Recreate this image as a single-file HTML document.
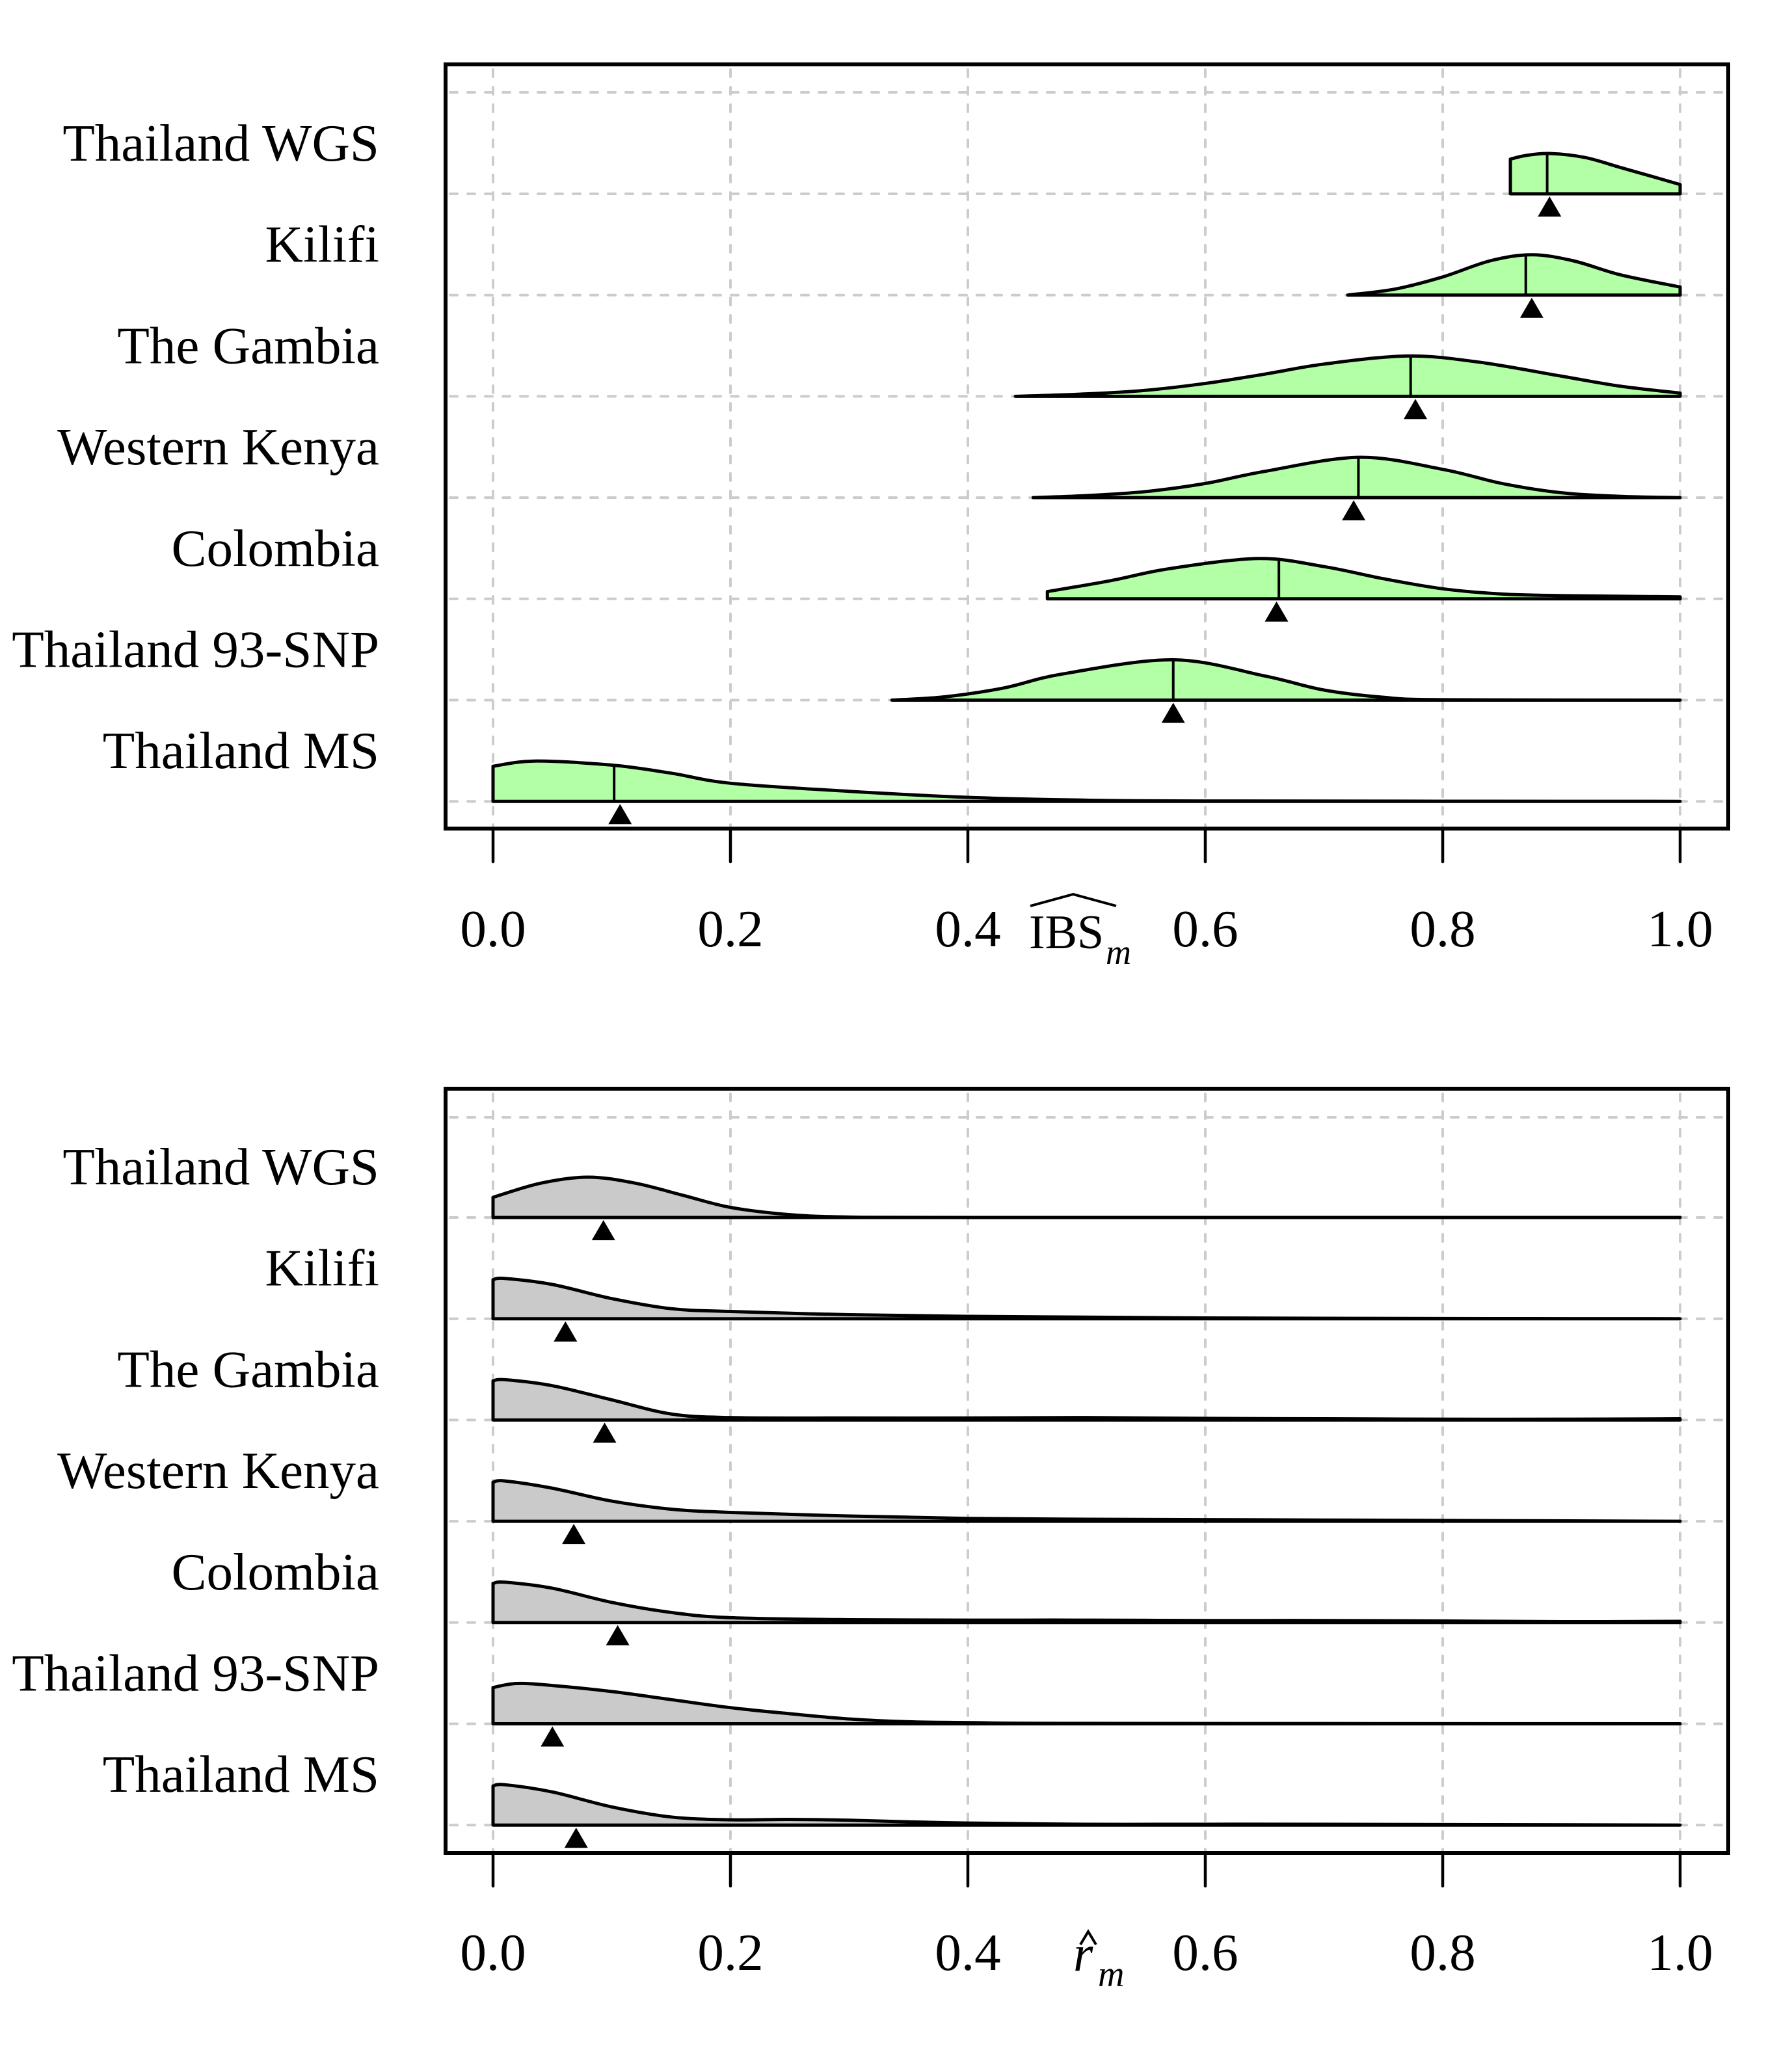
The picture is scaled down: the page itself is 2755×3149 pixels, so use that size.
<!DOCTYPE html>
<html><head><meta charset="utf-8"><style>
html,body{margin:0;padding:0;background:#fff;}
svg{display:block;}
text{font-family:"Liberation Serif",serif;fill:#000;}
</style></head><body>
<svg id="chart" width="2755" height="3149" viewBox="0 0 2755 3149" xmlns="http://www.w3.org/2000/svg">
<text x="1582" y="1458" font-size="74">IBS</text>
<text x="1700" y="1482" font-size="54" font-style="italic">m</text>
<path d="M1584 1393 L1650 1375 L1716 1393" fill="none" stroke="#000" stroke-width="4"/>
<text x="1650" y="3030" font-size="78" font-style="italic">r</text>
<text x="1688" y="3054" font-size="56" font-style="italic">m</text>
<path d="M1661 2990 L1673 2970 L1685 2990" fill="none" stroke="#000" stroke-width="4"/>
</svg>
<script>
const categories = ["Thailand WGS","Kilifi","The Gambia","Western Kenya","Colombia","Thailand 93-SNP","Thailand MS"];
const tickValues = [0,0.2,0.4,0.6,0.8,1.0];
const tickLabels = ["0.0","0.2","0.4","0.6","0.8","1.0"];
const ibsX = [
 [0.857,0.87,0.89,0.92,0.95,0.98,1.0],
 [0.72,0.76,0.80,0.84,0.875,0.91,0.95,1.0],
 [0.44,0.50,0.55,0.60,0.65,0.70,0.77,0.83,0.90,0.95,1.0],
 [0.455,0.50,0.55,0.60,0.65,0.73,0.80,0.85,0.90,0.95,1.0],
 [0.467,0.52,0.57,0.645,0.70,0.75,0.80,0.85,0.90,1.0],
 [0.336,0.38,0.43,0.48,0.573,0.65,0.70,0.75,0.80,1.0],
 [0,0.035,0.10,0.15,0.20,0.30,0.40,0.50,0.60,1.0]
];
const ibsH = [
 [0.86,0.95,1.0,0.9,0.65,0.4,0.23],
 [0.0,0.15,0.45,0.85,1.0,0.85,0.5,0.2],
 [0.0,0.06,0.15,0.32,0.55,0.8,1.0,0.85,0.5,0.25,0.08],
 [0.0,0.05,0.15,0.35,0.65,1.0,0.7,0.35,0.12,0.03,0.0],
 [0.18,0.45,0.75,1.0,0.8,0.5,0.25,0.12,0.08,0.05],
 [0.0,0.08,0.3,0.65,1.0,0.6,0.25,0.07,0.01,0.0],
 [0.87,1.0,0.9,0.7,0.45,0.25,0.1,0.03,0.01,0.0]
];
const ibsMedian = [0.888,0.87,0.773,0.729,0.662,0.573,0.102];
const ibsMean = [0.89,0.875,0.777,0.725,0.66,0.573,0.107];
const rX = [
 [0,0.04,0.08,0.12,0.16,0.2,0.25,0.3,0.4,1.0],
 [0,0.01,0.05,0.1,0.15,0.2,0.3,0.4,0.5,0.6,0.8,1.0],
 [0,0.01,0.05,0.1,0.15,0.2,0.3,0.4,0.5,0.6,0.7,0.8,0.9,1.0],
 [0,0.01,0.05,0.1,0.15,0.2,0.3,0.4,0.5,0.6,0.7,0.8,1.0],
 [0,0.01,0.05,0.1,0.15,0.2,0.3,0.4,0.5,0.6,0.7,0.8,0.9,1.0],
 [0,0.02,0.05,0.1,0.15,0.2,0.25,0.3,0.35,0.4,0.5,1.0],
 [0,0.01,0.05,0.1,0.15,0.2,0.25,0.3,0.35,0.4,0.5,0.6,0.7,1.0]
];
const rH = [
 [0.5,0.85,1.0,0.85,0.55,0.25,0.07,0.01,0.0,0.0],
 [0.97,1.0,0.85,0.5,0.25,0.18,0.1,0.06,0.04,0.02,0.005,0.0],
 [0.97,1.0,0.85,0.5,0.15,0.06,0.05,0.05,0.06,0.04,0.03,0.02,0.02,0.03],
 [0.97,1.0,0.82,0.5,0.3,0.22,0.13,0.07,0.05,0.04,0.03,0.02,0.0],
 [0.97,1.0,0.85,0.5,0.25,0.12,0.07,0.06,0.06,0.05,0.05,0.04,0.02,0.03],
 [0.9,1.0,0.95,0.8,0.6,0.4,0.25,0.12,0.05,0.03,0.01,0.0],
 [0.97,1.0,0.82,0.45,0.2,0.13,0.14,0.12,0.08,0.05,0.02,0.02,0.02,0.0]
];
const rMean = [0.093,0.061,0.094,0.068,0.105,0.05,0.07];

const NS = "http://www.w3.org/2000/svg";
const svg = document.getElementById("chart");
const xs = v => 758 + v * 1825;
function mk(tag, attrs, parent) {
  const e = document.createElementNS(NS, tag);
  for (const k in attrs) e.setAttribute(k, attrs[k]);
  (parent || svg).appendChild(e);
  return e;
}
function smoothPath(pts) {
  let d = "M" + pts[0][0] + " " + pts[0][1];
  for (let i = 0; i < pts.length - 1; i++) {
    const p0 = pts[Math.max(0, i - 1)], p1 = pts[i], p2 = pts[i + 1], p3 = pts[Math.min(pts.length - 1, i + 2)];
    const c1x = p1[0] + (p2[0] - p0[0]) / 6, c1y = p1[1] + (p2[1] - p0[1]) / 6;
    const c2x = p2[0] - (p3[0] - p1[0]) / 6, c2y = p2[1] - (p3[1] - p1[1]) / 6;
    d += " C" + c1x + " " + c1y + " " + c2x + " " + c2y + " " + p2[0] + " " + p2[1];
  }
  return d;
}
function panel(prefix, boxTop, boxBot, topGrid, base0, X, H, med, mean, fill, tickLabelY) {
  const g = mk("g", {});
  
  
  const ys = i => base0 + i * 155.7;
  const hScale = 62;
  tickValues.forEach(v => {
    const l = mk("line", {x1: xs(v), x2: xs(v), y1: boxTop + 8, y2: boxBot - 4, stroke: "#cccccc", "stroke-width": 4, "stroke-dasharray": "11 16", "stroke-linecap": "round"}, g);
    
    
  });
  const hy = [topGrid].concat(categories.map((c, i) => ys(i)));
  hy.forEach(y => {
    const l = mk("line", {x1: 692, x2: 2652, y1: y, y2: y, stroke: "#cccccc", "stroke-width": 4, "stroke-dasharray": "11 16", "stroke-linecap": "round"}, g);
    
    
  });
  categories.forEach((c, i) => {
    const b = ys(i);
    const pts = X[i].map((x, j) => [xs(x), b - H[i][j] * hScale]);
    let d = smoothPath(pts) + " L" + xs(1) + " " + b + " L" + xs(X[i][0]) + " " + b + " Z";
    const p = mk("path", {d: d, fill: fill, stroke: "#000", "stroke-width": 5, "stroke-linejoin": "round"}, g);
    
    
    if (med) {
      const xa = X[i], ha = H[i];
      let hm = ha[0];
      for (let j = 0; j < xa.length - 1; j++) if (med[i] >= xa[j] && med[i] <= xa[j + 1]) { const t = (med[i] - xa[j]) / (xa[j + 1] - xa[j]); hm = ha[j] + t * (ha[j + 1] - ha[j]); }
      const ml = mk("line", {x1: xs(med[i]), x2: xs(med[i]), y1: b, y2: b - hm * hScale, stroke: "#000", "stroke-width": 4}, g);
      
      
    }
    const mx = xs(mean[i]);
    const tri = mk("polygon", {points: (mx - 18) + "," + (b + 35) + " " + (mx + 18) + "," + (b + 35) + " " + mx + "," + (b + 4), fill: "#000"}, g);
    
    
    const lb = mk("text", {x: 583, y: b - 51, "font-size": 81, "text-anchor": "end"}, g);
    lb.textContent = c;
    
    
  });
  const box = mk("rect", {x: 685, y: boxTop, width: 1972, height: boxBot - boxTop, fill: "none", stroke: "#000", "stroke-width": 6}, g);
  
  
  tickValues.forEach((v, k) => {
    const t = mk("line", {x1: xs(v), x2: xs(v), y1: boxBot + 3, y2: boxBot + 51, stroke: "#000", "stroke-width": 4.5, "stroke-linecap": "round"}, g);
    
    
    const tl = mk("text", {x: xs(v), y: tickLabelY, "font-size": 81, "text-anchor": "middle"}, g);
    tl.textContent = tickLabels[k];
    
    
  });
}
panel("ibs", 99, 1274, 142, 298, ibsX, ibsH, ibsMedian, ibsMean, "#b3ffa6", 1455);
panel("r", 1674, 2849, 1718, 1872, rX, rH, null, rMean, "#cacaca", 3029);
</script>
</body></html>
